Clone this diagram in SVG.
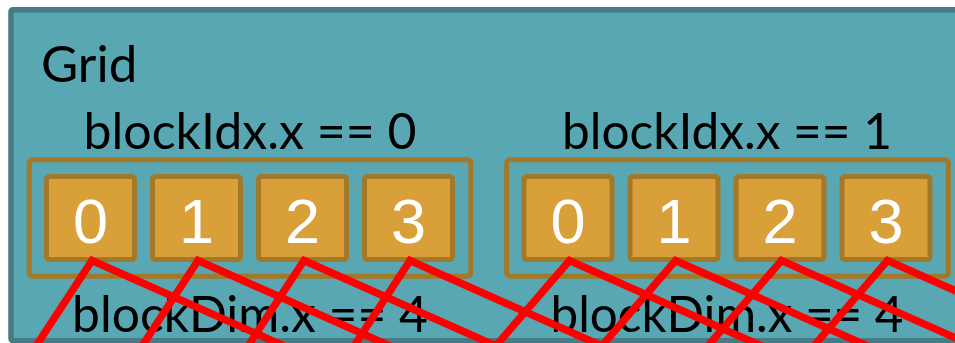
<svg xmlns="http://www.w3.org/2000/svg" width="955" height="343" viewBox="0 0 955 343">
  <style>
    .grid{fill:#58a7b3;stroke:#477c86;stroke-width:5.5}
    .block{fill:none;stroke:#a27829;stroke-width:5}
    .thread{fill:#d9a03a;stroke:#a27829;stroke-width:5}
    .lbl{font-family:Lato,"Open Sans",sans-serif;font-size:51px;fill:#000}
    .mid{text-anchor:middle}
    .tid{font-family:"Liberation Sans",Arial,sans-serif;font-size:63px;fill:#fff;text-anchor:middle}
    .map{fill:none;stroke:#ff0000;stroke-width:7.5;stroke-linejoin:miter;stroke-miterlimit:10}
  </style>

  <!-- grid container (runs past the right and bottom edges) -->
  <g id="grid">
    <rect class="grid" x="11" y="9.7" width="1000" height="331" rx="2"/>
    <text class="lbl" x="41" y="82">Grid</text>
  </g>

  <!-- block 0 -->
  <g id="block0">
    <text class="lbl mid" x="250" y="149" textLength="333" lengthAdjust="spacingAndGlyphs">blockIdx.x == 0</text>
    <rect class="block" x="29.2" y="159.8" width="441.6" height="116.4" rx="3"/>
    <text class="lbl mid" x="250" y="332" textLength="356" lengthAdjust="spacingAndGlyphs">blockDim.x == 4</text>
  </g>
  <g id="b0t0"><rect class="thread" x="46.5" y="176.5" width="88" height="83" rx="3"/><text class="tid" x="90.5" y="243">0</text></g>
  <g id="b0t1"><rect class="thread" x="152.5" y="176.5" width="88" height="83" rx="3"/><text class="tid" x="196.5" y="243">1</text></g>
  <g id="b0t2"><rect class="thread" x="258.5" y="176.5" width="88" height="83" rx="3"/><text class="tid" x="302.5" y="243">2</text></g>
  <g id="b0t3"><rect class="thread" x="364.5" y="176.5" width="88" height="83" rx="3"/><text class="tid" x="408.5" y="243">3</text></g>

  <!-- block 1 -->
  <g id="block1">
    <text class="lbl mid" x="727" y="149" textLength="330" lengthAdjust="spacingAndGlyphs">blockIdx.x == 1</text>
    <rect class="block" x="506.7" y="159.8" width="441.6" height="116.4" rx="3"/>
    <text class="lbl mid" x="727" y="332" textLength="353" lengthAdjust="spacingAndGlyphs">blockDim.x == 4</text>
  </g>
  <g id="b1t0"><rect class="thread" x="524" y="176.5" width="88" height="83" rx="3"/><text class="tid" x="568" y="243">0</text></g>
  <g id="b1t1"><rect class="thread" x="630" y="176.5" width="88" height="83" rx="3"/><text class="tid" x="674" y="243">1</text></g>
  <g id="b1t2"><rect class="thread" x="736" y="176.5" width="88" height="83" rx="3"/><text class="tid" x="780" y="243">2</text></g>
  <g id="b1t3"><rect class="thread" x="842" y="176.5" width="88" height="83" rx="3"/><text class="tid" x="886" y="243">3</text></g>

  <!-- thread-to-element mapping lines -->
  <g id="connectors">
    <path class="map" d="M27.2,359.5 L92,260.5 L322,362.9"/>
    <path class="map" d="M133.2,359.5 L198,260.5 L428,362.9"/>
    <path class="map" d="M239.2,359.5 L304,260.5 L534,362.9"/>
    <path class="map" d="M345.2,359.5 L410,260.5 L640,362.9"/>
    <path class="map" d="M484.1,359.5 L569.5,260.5 L799.5,362.9"/>
    <path class="map" d="M590.1,359.5 L675.5,260.5 L905.5,362.9"/>
    <path class="map" d="M696.1,359.5 L781.5,260.5 L1011.5,362.9"/>
    <path class="map" d="M802.1,359.5 L887.5,260.5 L1117.5,362.9"/>
  </g>
</svg>
